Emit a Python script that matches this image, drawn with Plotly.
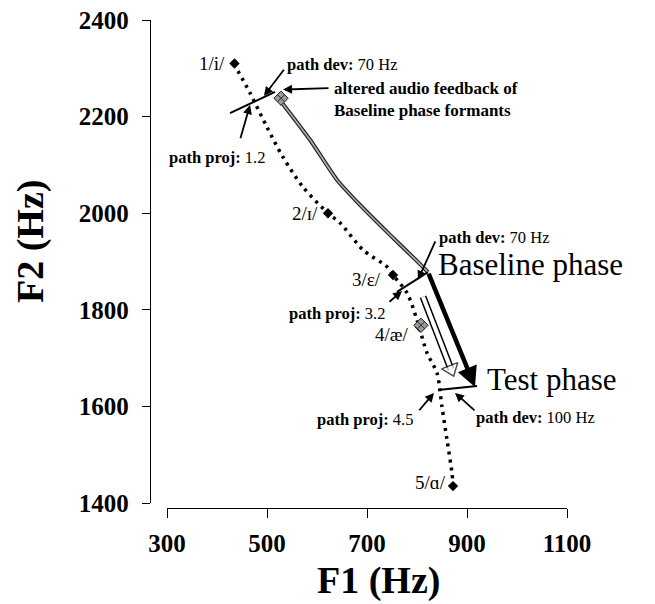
import plotly.graph_objects as go

# ---------------- data ----------------
vowel_labels = ['1/i/', '2/ɪ/', '3/ε/', '4/æ/', '5/ɑ/']
vowel_F1 = [435, 622, 752, 806, 872]
vowel_F2 = [2310, 2000, 1872, 1764, 1435]

# dotted vowel path through the vowels
path_F1 = [434, 466, 500, 532, 572, 622, 646, 692, 740, 752, 780, 800, 820, 840, 850, 860, 870, 872]
path_F2 = [2309, 2249, 2178, 2116, 2054, 2000, 1980, 1924, 1889, 1872, 1835, 1779, 1711, 1669, 1599, 1531, 1462, 1435]

# altered audio feedback trajectory (grey line)
alt_F1 = [526, 586, 640, 686, 746, 792, 822]
alt_F2 = [2234, 2152, 2069, 2017, 1955, 1909, 1878]

# altered-feedback markers (hatched)
altm_F1 = [528, 808]
altm_F2 = [2238, 1768]

# path-deviation segments (perpendicular to vowel path)
dev_top_F1 = [426, 516]
dev_top_F2 = [2207, 2251]
dev_base_F1 = [760, 822]
dev_base_F2 = [1837, 1878]
dev_test_F1 = [842, 920]
dev_test_F2 = [1634, 1642]

# baseline -> test phase
phase_F1 = [822, 916]
phase_F2 = [1878, 1640]

# hollow adaptation arrow
adapt_F1 = [812, 868]
adapt_F2 = [1827, 1677]

x_ticks = [300, 500, 700, 900, 1100]
y_ticks = [1400, 1600, 1800, 2000, 2200, 2400]

FONT = "Liberation Serif"

fig = go.Figure()

# vowel path (dotted)
fig.add_trace(go.Scatter(x=path_F1, y=path_F2, mode='lines',
                         line=dict(color='black', width=3.5, dash='3px,5px', shape='spline', smoothing=0.8),
                         hoverinfo='skip', showlegend=False))

# altered feedback line: dark edges with grey interior
fig.add_trace(go.Scatter(x=alt_F1, y=alt_F2, mode='lines',
                         line=dict(color='#222222', width=4, shape='spline', smoothing=0.6),
                         hoverinfo='skip', showlegend=False))
fig.add_trace(go.Scatter(x=alt_F1, y=alt_F2, mode='lines',
                         line=dict(color='#b0b0b0', width=1.6, shape='spline', smoothing=0.6),
                         hoverinfo='skip', showlegend=False))

# deviation segments
for xs, ys in [(dev_top_F1, dev_top_F2), (dev_base_F1, dev_base_F2), (dev_test_F1, dev_test_F2)]:
    fig.add_trace(go.Scatter(x=xs, y=ys, mode='lines', line=dict(color='black', width=2),
                             hoverinfo='skip', showlegend=False))

# hollow arrow
fig.add_trace(go.Scatter(x=adapt_F1, y=adapt_F2, mode='lines', line=dict(color='black', width=7),
                         hoverinfo='skip', showlegend=False))
fig.add_trace(go.Scatter(x=adapt_F1, y=adapt_F2, mode='lines', line=dict(color='white', width=4),
                         hoverinfo='skip', showlegend=False))
fig.add_trace(go.Scatter(x=adapt_F1, y=adapt_F2, mode='markers',
                         marker=dict(symbol='triangle-up', size=[0, 15], color='white', angleref='previous',
                                     line=dict(color='black', width=1.5)),
                         hoverinfo='skip', showlegend=False))

# vowel markers
fig.add_trace(go.Scatter(x=vowel_F1, y=vowel_F2, mode='markers',
                         marker=dict(symbol='diamond', size=8, color='black'),
                         text=vowel_labels, hoverinfo='text', showlegend=False))

# altered feedback markers (hatched look)
fig.add_trace(go.Scatter(x=altm_F1, y=altm_F2, mode='markers',
                         marker=dict(symbol='diamond-x', size=11, color='#9a9a9a',
                                     line=dict(color='#222222', width=1)),
                         hoverinfo='skip', showlegend=False))

# ---------------- text annotations ----------------
ann = []

def txt(x, y, s, size=17, xanchor='center', yanchor='middle', align='left'):
    ann.append(dict(x=x, y=y, xref='x', yref='y', text=s, showarrow=False,
                    xanchor=xanchor, yanchor=yanchor, align=align,
                    font=dict(family=FONT, size=size, color='black')))

def arrow(x0, y0, x1, y1, width=1.8, size=1.0):
    ann.append(dict(x=x1, y=y1, ax=x0, ay=y0, xref='x', yref='y', axref='x', ayref='y',
                    text='', showarrow=True, arrowhead=2, arrowsize=size, arrowwidth=width,
                    arrowcolor='black'))

# baseline -> test thick arrow
arrow(phase_F1[0], phase_F2[0], phase_F1[1], phase_F2[1], width=4.5, size=0.9)

# vowel labels
vowel_label_pos = [(420, 2309), (606, 2000), (732, 1862), (786, 1748), (862, 1442)]
for (lx, ly), lab in zip(vowel_label_pos, vowel_labels):
    txt(lx, ly, lab, size=19, xanchor='right')

txt(536, 2307, '<b>path dev:</b> 70 Hz', size=16.5, xanchor='left')
txt(630, 2236, '<b>altered audio feedback of<br>Baseline phase formants</b>', size=17, xanchor='left')
txt(500, 2116, '<b>path proj:</b> 1.2', size=16.5, xanchor='right')
txt(840, 1949, '<b>path dev:</b> 70 Hz', size=16.5, xanchor='left')
txt(838, 1893, 'Baseline phase', size=31, xanchor='left')
txt(740, 1793, '<b>path proj:</b> 3.2', size=16.5, xanchor='right')
txt(936, 1655, 'Test phase', size=31, xanchor='left')
txt(914, 1576, '<b>path dev:</b> 100 Hz', size=16.5, xanchor='left')
txt(796, 1572, '<b>path proj:</b> 4.5', size=16.5, xanchor='right')

arrow(536, 2300, 494, 2243)
arrow(626, 2259, 532, 2256)
arrow(446, 2152, 466, 2224)
arrow(838, 1945, 802, 1862)
arrow(742, 1814, 770, 1839)
arrow(802, 1589, 834, 1628)
arrow(918, 1589, 876, 1628)

# ---------------- layout ----------------
# the page body adds an 8px margin; the figure is sized to fill the rest of the window
OFF = 8
W, H = 655 - OFF, 604 - OFF
ML, MR, MT, MB = 132, 75, 7, 89
PW, PH = W - ML - MR, H - MT - MB

def fx(px):
    return (px - OFF - ML) / PW

def fy(py):
    return (H - MB - (py - OFF)) / PH

# axis titles placed as paper annotations (positioned like the reference)
ann.append(dict(x=fx(31), y=fy(242), xref='paper', yref='paper', text='<b>F2 (Hz)</b>',
                showarrow=False, textangle=-90, xanchor='center', yanchor='middle',
                font=dict(family=FONT, size=38, color='black')))
ann.append(dict(x=fx(378), y=fy(603), xref='paper', yref='paper', text='<b>F1 (Hz)</b>',
                showarrow=False, xanchor='center', yanchor='bottom', borderpad=0,
                font=dict(family=FONT, size=38, color='black')))

fig.update_layout(
    width=W, height=H,
    margin=dict(l=ML, r=MR, t=MT, b=MB),
    plot_bgcolor='white', paper_bgcolor='white',
    showlegend=False,
    annotations=ann,
    font=dict(family=FONT, color='black'),
    xaxis=dict(range=[300, 1100], domain=[fx(167), fx(567)], anchor='free', position=fy(508),
               tickvals=x_ticks, ticks='outside', ticklen=9, tickwidth=1.3, tickcolor='black',
               showline=True, linecolor='black', linewidth=1.3, showgrid=False, zeroline=False,
               tickfont=dict(family=FONT, size=25, color='black', weight='bold'),
               ticklabelstandoff=4, ticklabeloverflow='allow',
               automargin=False),
    yaxis=dict(range=[1400, 2400], domain=[fy(503), fy(20)], anchor='free', position=fx(150),
               tickvals=y_ticks, ticks='outside', ticklen=8, tickwidth=1.3, tickcolor='black',
               showline=True, linecolor='black', linewidth=1.3, showgrid=False, zeroline=False,
               tickfont=dict(family=FONT, size=25, color='black', weight='bold'),
               ticklabelstandoff=8, ticklabeloverflow='allow',
               automargin=False),
)

fig.write_html("out.html")
